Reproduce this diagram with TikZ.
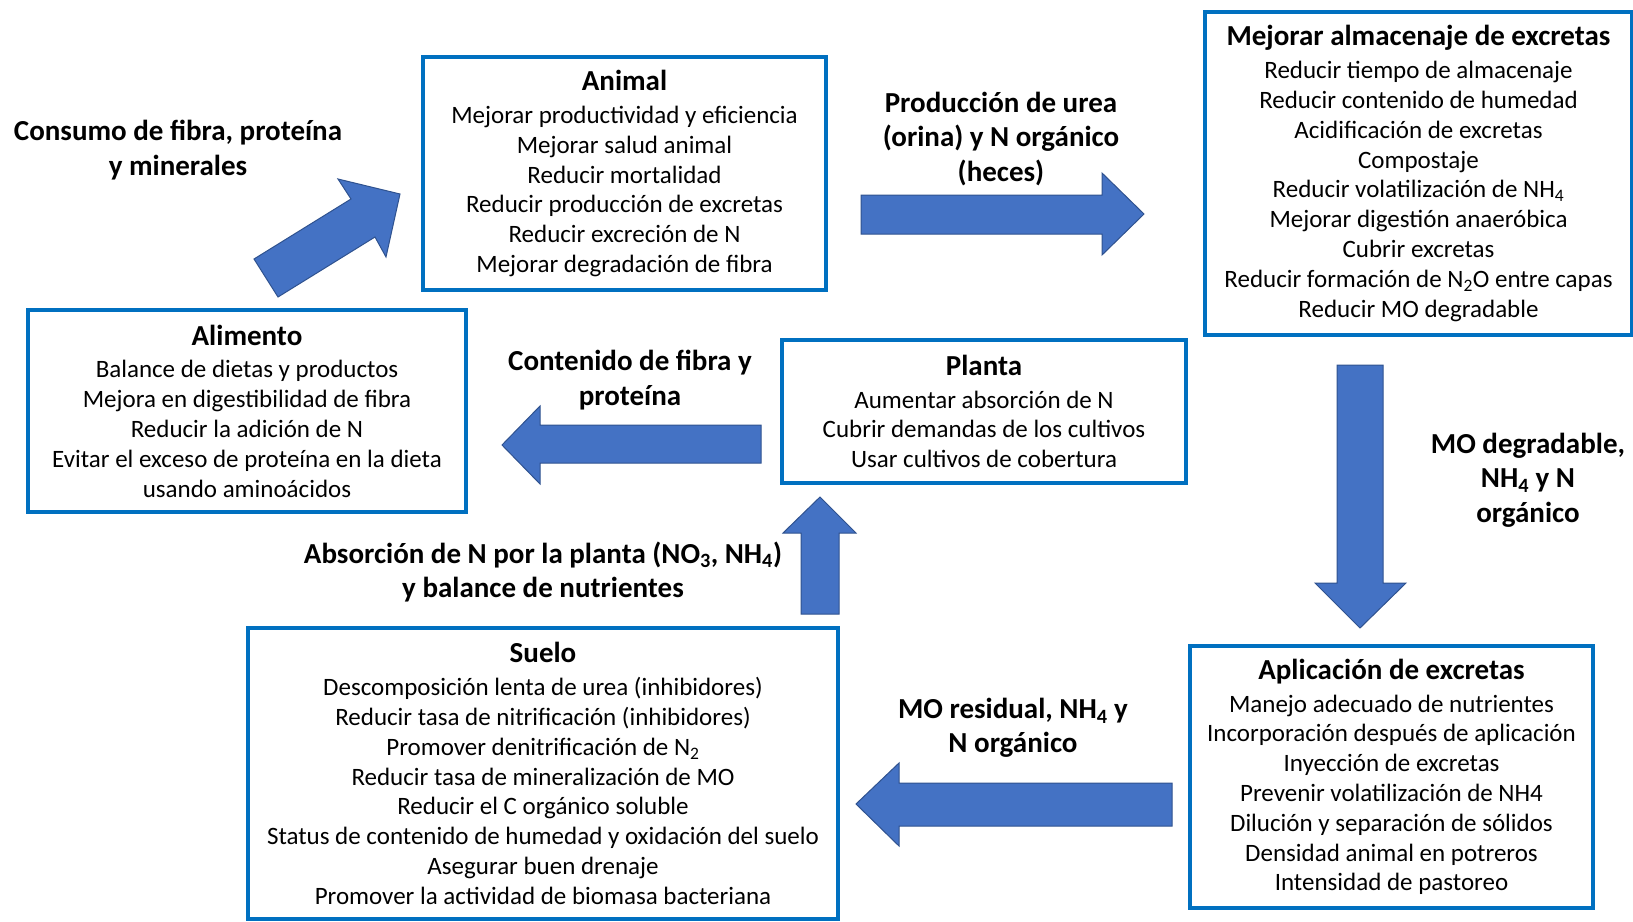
\documentclass[tikz,border=0pt]{standalone}
\usepackage{fontspec}
\setmainfont{Carlito}
\newcommand{\ttl}[1]{{\fontsize{29}{30}\selectfont\bfseries #1}\\[3pt]}
\newcommand{\sub}[1]{\textsubscript{#1}}
\begin{document}
\begin{tikzpicture}[x=1pt,y=-1pt,
  box/.style={draw=boxblue,line width=4pt,fill=white,inner sep=0pt,align=center,
    font=\fontsize{25}{29.8}\selectfont},
  lbl/.style={align=center,font=\fontsize{29}{34.5}\selectfont\bfseries},
  blockarrow/.style={fill=arrowfill,draw=arrowedge,line width=1pt,line join=miter}]
\definecolor{boxblue}{HTML}{0070C0}
\definecolor{arrowfill}{HTML}{4472C4}
\definecolor{arrowedge}{HTML}{2F528F}
\useasboundingbox (0,0) rectangle (1633,921);

% boxes
\node[box,minimum width=403pt,minimum height=233pt] (animal) at (624.5,173.5)
 {\ttl{Animal}Mejorar productividad y eficiencia\\Mejorar salud animal\\Reducir mortalidad\\Reducir producción de excretas\\Reducir excreción de N\\Mejorar degradación de fibra};
\node[box,minimum width=427pt,minimum height=323pt] (almac) at (1418.5,173.5)
 {\ttl{Mejorar almacenaje de excretas}Reducir tiempo de almacenaje\\Reducir contenido de humedad\\Acidificación de excretas\\Compostaje\\Reducir volatilización de NH\sub{4}\\Mejorar digestión anaeróbica\\Cubrir excretas\\Reducir formación de N\sub{2}O entre capas\\Reducir MO degradable};
\node[box,minimum width=438pt,minimum height=202pt] (alimento) at (247,411)
 {\ttl{Alimento}Balance de dietas y productos\\Mejora en digestibilidad de fibra\\Reducir la adición de N\\Evitar el exceso de proteína en la dieta\\usando aminoácidos};
\node[box,minimum width=404pt,minimum height=143pt] (planta) at (984,411.5)
 {\ttl{Planta}Aumentar absorción de N\\Cubrir demandas de los cultivos\\Usar cultivos de cobertura};
\node[box,minimum width=590pt,minimum height=291pt] (suelo) at (543,773.5)
 {\ttl{Suelo}Descomposición lenta de urea (inhibidores)\\Reducir tasa de nitrificación (inhibidores)\\Promover denitrificación de N\sub{2}\\Reducir tasa de mineralización de MO\\Reducir el C orgánico soluble\\Status de contenido de humedad y oxidación del suelo\\Asegurar buen drenaje\\Promover la actividad de biomasa bacteriana};
\node[box,minimum width=403pt,minimum height=262pt] (aplic) at (1391.5,777)
 {\ttl{Aplicación de excretas}Manejo adecuado de nutrientes\\Incorporación después de aplicación\\Inyección de excretas\\Prevenir volatilización de NH4\\Dilución y separación de sólidos\\Densidad animal en potreros\\Intensidad de pastoreo};

% block arrows
\draw[blockarrow] (254,259) -- (351,199) -- (338,179) -- (400,194) -- (386,257) -- (375,237) -- (278,297) -- cycle;
\draw[blockarrow] (861,195) -- (1102,195) -- (1102,173) -- (1144,214) -- (1102,255) -- (1102,234) -- (861,234) -- cycle;
\draw[blockarrow] (1337,365) -- (1383,365) -- (1383,583) -- (1406,583) -- (1360,628) -- (1315,583) -- (1337,583) -- cycle;
\draw[blockarrow] (761,425) -- (540,425) -- (540,406) -- (502,445) -- (540,484) -- (540,463) -- (761,463) -- cycle;
\draw[blockarrow] (801,614) -- (801,533) -- (783,533) -- (820,497) -- (856,533) -- (839,533) -- (839,614) -- cycle;
\draw[blockarrow] (1172,783) -- (899,783) -- (899,763) -- (856,804) -- (899,846) -- (899,826) -- (1172,826) -- cycle;

% labels
\node[lbl] (l1) at (178,150) {Consumo de fibra, proteína\\y minerales};
\node[lbl] (l2) at (1001,139) {Producción de urea\\(orina) y N orgánico\\(heces)};
\node[lbl] (l3) at (1528,480) {MO degradable,\\NH\sub{4} y N\\orgánico};
\node[lbl] (l4) at (630,380) {Contenido de fibra y\\proteína};
\node[lbl] (l5) at (543,572) {Absorción de N por la planta (NO\sub{3}, NH\sub{4})\\y balance de nutrientes};
\node[lbl] (l6) at (1013,728) {MO residual, NH\sub{4} y\\N orgánico};
\end{tikzpicture}
\end{document}
